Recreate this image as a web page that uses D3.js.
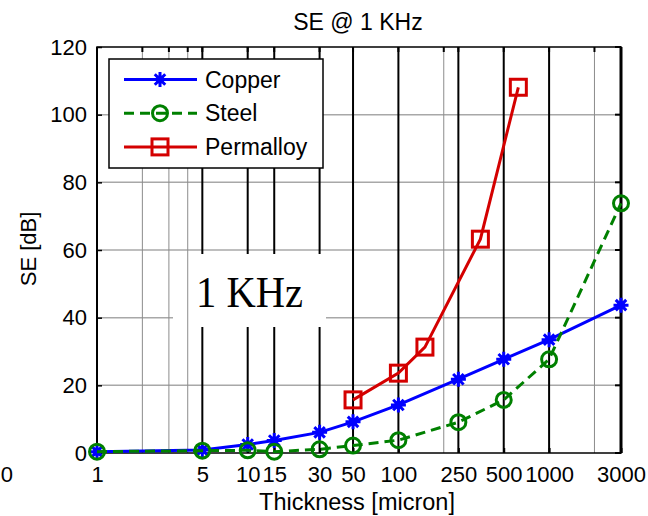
<!DOCTYPE html>
<html>
<head>
<meta charset="utf-8">
<script src="https://cdn.jsdelivr.net/npm/d3@7"></script>
<style>
  body { margin: 0; background: #fff; }
  svg { display: block; font-family: "Liberation Sans", Arial, sans-serif; }
</style>
</head>
<body>
<svg id="graph" width="648" height="516"></svg>
<script>
// thickness ticks (micron) and the odd "0" label MATLAB left at the far left
let x_tick_values = [0.25, 1, 5, 10, 15, 30, 50, 100, 250, 500, 1000, 3000];
let x_tick_labels = ["0", "1", "5", "10", "15", "30", "50", "100", "250", "500", "1000", "3000"];
let x_minor_grid = [2, 3, 4, 200, 2000];
let y_tick_values = [0, 20, 40, 60, 80, 100, 120];

let copper_x = [1, 5, 10, 15, 30, 50, 100, 250, 500, 1000, 3000];
let copper_se = [0.4, 0.9, 2.5, 3.7, 6.1, 9.2, 14.2, 21.8, 27.7, 33.5, 43.7];
let steel_x = [1, 5, 10, 15, 30, 50, 100, 250, 500, 1000, 3000];
let steel_se = [0.4, 0.7, 0.8, 0.4, 1.1, 2.2, 3.8, 9.1, 15.7, 27.7, 73.8];
let permalloy_x = [50, 100, 150, 350, 625];
let permalloy_se = [15.7, 23.6, 31.3, 63.2, 108.1];

let series = [
  {name: "Copper", xs: copper_x, ys: copper_se, color: "#0000ff", dash: null, marker: "star"},
  {name: "Steel", xs: steel_x, ys: steel_se, color: "#008000", dash: "10,6", marker: "circle"},
  {name: "Permalloy", xs: permalloy_x, ys: permalloy_se, color: "#d40000", dash: null, marker: "square"}
];

let layout = {
  left: 97, right: 621, top: 47, bottom: 453,
  font: 22,
  legend: {x: 109, y: 59, width: 214, height: 109, row: 33.7},
  note: {x: 173, y: 254, width: 153, height: 73}
};

let graph = d3.select("#graph");
let x = d3.scaleLog().domain([1, 3000]).range([layout.left, layout.right]);
let y = d3.scaleLinear().domain([0, 120]).range([layout.bottom, layout.top]);

let major_x = x_tick_values.filter(function(d) { return d >= 1; });

//grid
let grid = graph.append("g");
grid.selectAll(".hgrid").data(y_tick_values.slice(1, -1)).enter().append("line")
  .attr("x1", layout.left).attr("x2", layout.right)
  .attr("y1", function(d) { return y(d); }).attr("y2", function(d) { return y(d); })
  .style("stroke", "#a8a8a8").style("stroke-width", 1.5);
grid.selectAll(".vgrid").data(major_x).enter().append("line")
  .attr("x1", function(d) { return x(d); }).attr("x2", function(d) { return x(d); })
  .attr("y1", layout.top).attr("y2", layout.bottom)
  .style("stroke", "#000").style("stroke-width", 2);

// white text box "1 KHz", covers the grid but not the thin minor lines
graph.append("rect")
  .attr("x", layout.note.x).attr("y", layout.note.y)
  .attr("width", layout.note.width).attr("height", layout.note.height)
  .style("fill", "#fff");

graph.append("g").selectAll("line").data(x_minor_grid).enter().append("line")
  .attr("x1", function(d) { return x(d); }).attr("x2", function(d) { return x(d); })
  .attr("y1", layout.top).attr("y2", layout.bottom)
  .style("stroke", "#8c8c8c").style("stroke-width", 1);

graph.append("text")
  .attr("x", layout.note.x + 23).attr("y", 307)
  .attr("textLength", 107).attr("lengthAdjust", "spacingAndGlyphs")
  .style("font-family", "'Liberation Serif', 'Times New Roman', serif")
  .style("font-size", "44px")
  .text("1 KHz");

// axes box
graph.append("rect")
  .attr("x", layout.left).attr("y", layout.top)
  .attr("width", layout.right - layout.left).attr("height", layout.bottom - layout.top)
  .style("fill", "none").style("stroke", "#000").style("stroke-width", 1.5);
graph.append("line")
  .attr("x1", layout.right).attr("x2", layout.right).attr("y1", layout.top).attr("y2", layout.bottom)
  .style("stroke", "#000").style("stroke-width", 3);

//axis X
let axis_x = graph.append("g").attr("transform", "translate(0," + layout.bottom + ")")
  .call(d3.axisBottom(x).tickValues(x_tick_values)
    .tickFormat(function(d, i) { return x_tick_labels[i]; })
    .tickSizeInner(-5).tickSizeOuter(0).tickPadding(13));
axis_x.select(".domain").remove();
axis_x.selectAll(".tick line").style("stroke", "#000").style("stroke-width", 2)
  .filter(function(d) { return d < 1; }).remove();
axis_x.selectAll("text").style("font-size", layout.font + "px").style("fill", "#000");
axis_x.attr("font-family", null).attr("font-size", null);

let top_ticks = graph.append("g");
top_ticks.selectAll("line").data(major_x.concat(x_minor_grid)).enter().append("line")
  .attr("x1", function(d) { return x(d); }).attr("x2", function(d) { return x(d); })
  .attr("y1", layout.top).attr("y2", layout.top + 5)
  .style("stroke", "#000").style("stroke-width", 2);

//axis Y
let axis_y = graph.append("g").attr("transform", "translate(" + layout.left + ",0)")
  .call(d3.axisLeft(y).tickValues(y_tick_values).tickFormat(d3.format("d"))
    .tickSizeInner(-5).tickSizeOuter(0).tickPadding(10));
axis_y.select(".domain").remove();
axis_y.selectAll(".tick line").style("stroke", "#000").style("stroke-width", 1.5);
axis_y.selectAll("text").style("font-size", layout.font + "px").style("fill", "#000");
axis_y.attr("font-family", null).attr("font-size", null);

let right_ticks = graph.append("g");
right_ticks.selectAll("line").data(y_tick_values).enter().append("line")
  .attr("x1", layout.right - 6).attr("x2", layout.right)
  .attr("y1", function(d) { return y(d); }).attr("y2", function(d) { return y(d); })
  .style("stroke", "#000").style("stroke-width", 2);

// labels
graph.append("text").attr("x", 358).attr("y", 30).attr("text-anchor", "middle")
  .style("font-size", "23px").text("SE @ 1 KHz");
graph.append("text").attr("x", 357).attr("y", 510).attr("text-anchor", "middle")
  .style("font-size", "23.5px").text("Thickness [micron]");
graph.append("text").attr("transform", "translate(36,249) rotate(-90)").attr("text-anchor", "middle")
  .style("font-size", "22px").text("SE [dB]");

// markers
let draw_marker = function(g, kind, color, cx, cy) {
  if (kind == "circle") {
    g.append("circle").attr("cx", cx).attr("cy", cy).attr("r", 7.5)
      .style("fill", "none").style("stroke", color).style("stroke-width", 3);
  } else if (kind == "square") {
    g.append("rect").attr("x", cx - 8).attr("y", cy - 8).attr("width", 16).attr("height", 16)
      .style("fill", "none").style("stroke", color).style("stroke-width", 3);
  } else {
    let s = 7.5;
    let d = "M" + (cx - s) + "," + cy + "L" + (cx + s) + "," + cy +
      "M" + cx + "," + (cy - s) + "L" + cx + "," + (cy + s) +
      "M" + (cx - s * 0.7) + "," + (cy - s * 0.7) + "L" + (cx + s * 0.7) + "," + (cy + s * 0.7) +
      "M" + (cx - s * 0.7) + "," + (cy + s * 0.7) + "L" + (cx + s * 0.7) + "," + (cy - s * 0.7);
    g.append("path").attr("d", d).style("stroke", color).style("stroke-width", 3).style("fill", "none");
    g.append("circle").attr("cx", cx).attr("cy", cy).attr("r", 4).style("fill", color);
  }
};

let line = d3.line().x(function(d) { return x(d[0]); }).y(function(d) { return y(d[1]); });

let plot = graph.append("g");
series.forEach(function(s) {
  let pts = s.xs.map(function(v, i) { return [v, s.ys[i]]; });
  plot.append("path").datum(pts).attr("d", line)
    .style("fill", "none").style("stroke", s.color).style("stroke-width", 3)
    .style("stroke-dasharray", s.dash);
  pts.forEach(function(p) { draw_marker(plot, s.marker, s.color, x(p[0]), y(p[1])); });
});

//legend
let lg = layout.legend;
let legend = graph.append("g");
legend.append("rect").attr("x", lg.x).attr("y", lg.y).attr("width", lg.width).attr("height", lg.height)
  .style("fill", "#fff").style("stroke", "#000").style("stroke-width", 1.5);
series.forEach(function(s, i) {
  let ly = lg.y + 20.5 + i * lg.row;
  legend.append("line").attr("x1", lg.x + 15).attr("x2", lg.x + 88).attr("y1", ly).attr("y2", ly)
    .style("stroke", s.color).style("stroke-width", 3).style("stroke-dasharray", s.dash);
  draw_marker(legend, s.marker, s.color, lg.x + 51, ly);
  legend.append("text").attr("x", lg.x + 96).attr("y", ly + 8)
    .style("font-size", "23px").text(s.name);
});
</script>
</body>
</html>
